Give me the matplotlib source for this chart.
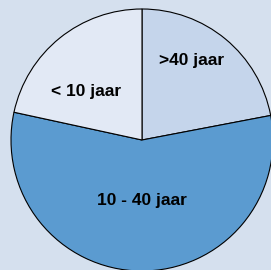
import matplotlib
matplotlib.use("Agg")
import matplotlib.pyplot as plt

labels = [">40 jaar", "10 - 40 jaar", "< 10 jaar"]
values = [22, 56.4, 21.6]
colors = ["#c5d5eb", "#5b9bd0", "#e2e9f5"]
label_pos = [(0.38, 0.61), (0.0, -0.46), (-0.43, 0.37)]

W, H = 271, 270
fig = plt.figure(figsize=(W / 100, H / 100), dpi=100)
fig.patch.set_facecolor("#d5e0ee")

cx, cy, r = 142, 130, 131
ax = fig.add_axes([(cx - r) / W, (cy - r) / H, 2 * r / W, 2 * r / H])
ax.set_facecolor("none")
ax.pie(values, colors=colors, startangle=90, counterclock=False, radius=1,
       wedgeprops=dict(edgecolor="black", linewidth=0.8))
for lab, (x, y) in zip(labels, label_pos):
    ax.text(x, y, lab, ha="center", va="center", fontsize=12.5,
            fontweight="bold", family="Liberation Sans", color="black")
ax.set_xlim(-1, 1)
ax.set_ylim(-1, 1)
ax.set_aspect("auto")
ax.axis("off")

fig.savefig("out.png", dpi=100, facecolor=fig.get_facecolor())
